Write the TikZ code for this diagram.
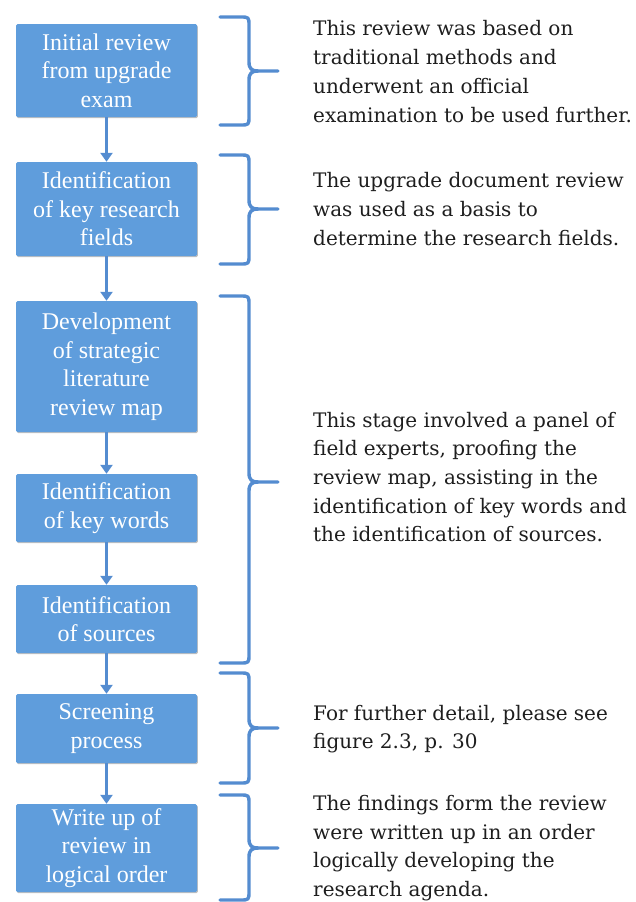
\documentclass[tikz,border=0pt]{standalone}
\usepackage{fontspec}
\setmainfont{Liberation Serif}
\newfontfamily\notefont{DejaVu Serif}
\usetikzlibrary{arrows.meta,shadows}

\definecolor{boxblue}{RGB}{95,157,220}
\definecolor{lineblue}{RGB}{84,140,208}
\definecolor{notegray}{RGB}{30,30,30}

\tikzset{
  stepbox/.style={rectangle, rounded corners=1.5pt, fill=boxblue, draw=none,
    minimum width=181pt, inner sep=0pt, align=center, text=white,
    font={\fontsize{24}{28.5}\selectfont},
    drop shadow={shadow xshift=0.8pt, shadow yshift=-1.2pt, opacity=0.25, fill=black}},
  flow/.style={draw=lineblue, line width=3.4pt,
    -{Triangle[width=12pt,length=9pt]}},
  note/.style={anchor=west, align=left, inner sep=0pt, text=notegray,
    font={\notefont\fontsize{20}{28.7}\selectfont}},
  bracepath/.style={draw=lineblue, line width=3.4pt, line cap=round, line join=round}
}

% right-hand curly brace: #1 top y, #2 tip y, #3 bottom y
\newcommand{\stagebrace}[3]{%
  \draw[bracepath] (220,#1) -- (240,#1) .. controls (249,#1) .. (249,#1+9)
    -- (249,#2-9) .. controls (249,#2-2) and (252,#2) .. (258,#2) -- (278,#2);
  \draw[bracepath] (220,#3) -- (240,#3) .. controls (249,#3) .. (249,#3-9)
    -- (249,#2+9) .. controls (249,#2+2) and (252,#2) .. (258,#2);
}

\begin{document}
\begin{tikzpicture}[x=1pt,y=-1pt]
\useasboundingbox (0,0) rectangle (636,902);

% process steps
\node[stepbox, minimum height=93pt]  (s1) at (106.5,70.5) {Initial review\\from upgrade\\exam};
\node[stepbox, minimum height=94pt]  (s2) at (106.5,209)  {Identification\\of key research\\fields};
\node[stepbox, minimum height=131pt] (s3) at (106.5,366.5){Development\\of strategic\\literature\\review map};
\node[stepbox, minimum height=68pt]  (s4) at (106.5,508)  {Identification\\of key words};
\node[stepbox, minimum height=68pt]  (s5) at (106.5,619)  {Identification\\of sources};
\node[stepbox, minimum height=69pt]  (s6) at (106.5,728.5){Screening\\process};
\node[stepbox, minimum height=88pt]  (s7) at (106.5,848)  {Write up of\\review in\\logical order};

% connectors between steps
\draw[flow] (s1) -- (s2);
\draw[flow] (s2) -- (s3);
\draw[flow] (s3) -- (s4);
\draw[flow] (s4) -- (s5);
\draw[flow] (s5) -- (s6);
\draw[flow] (s6) -- (s7);

% braces grouping the steps
\stagebrace{17}{71}{125}
\stagebrace{155}{209}{264}
\stagebrace{296}{482}{663}
\stagebrace{673}{728}{783}
\stagebrace{795}{848}{900}

% explanatory notes
\node[note] (n1) at (313,71.5) {This review was based on\\traditional methods and\\underwent an official\\examination to be used further.};
\node[note] (n2) at (313,209) {The upgrade document review\\was used as a basis to\\determine the research fields.};
\node[note] (n3) at (313,477) {This stage involved a panel of\\field experts, proofing the\\review map, assisting in the\\identification of key words and\\the identification of sources.};
\node[note] (n4) at (313,729) {For further detail, please see\\figure 2.3, p. 30};
\node[note] (n5) at (313,848) {The findings form the review\\were written up in an order\\logically developing the\\research agenda.};
\end{tikzpicture}
\end{document}
